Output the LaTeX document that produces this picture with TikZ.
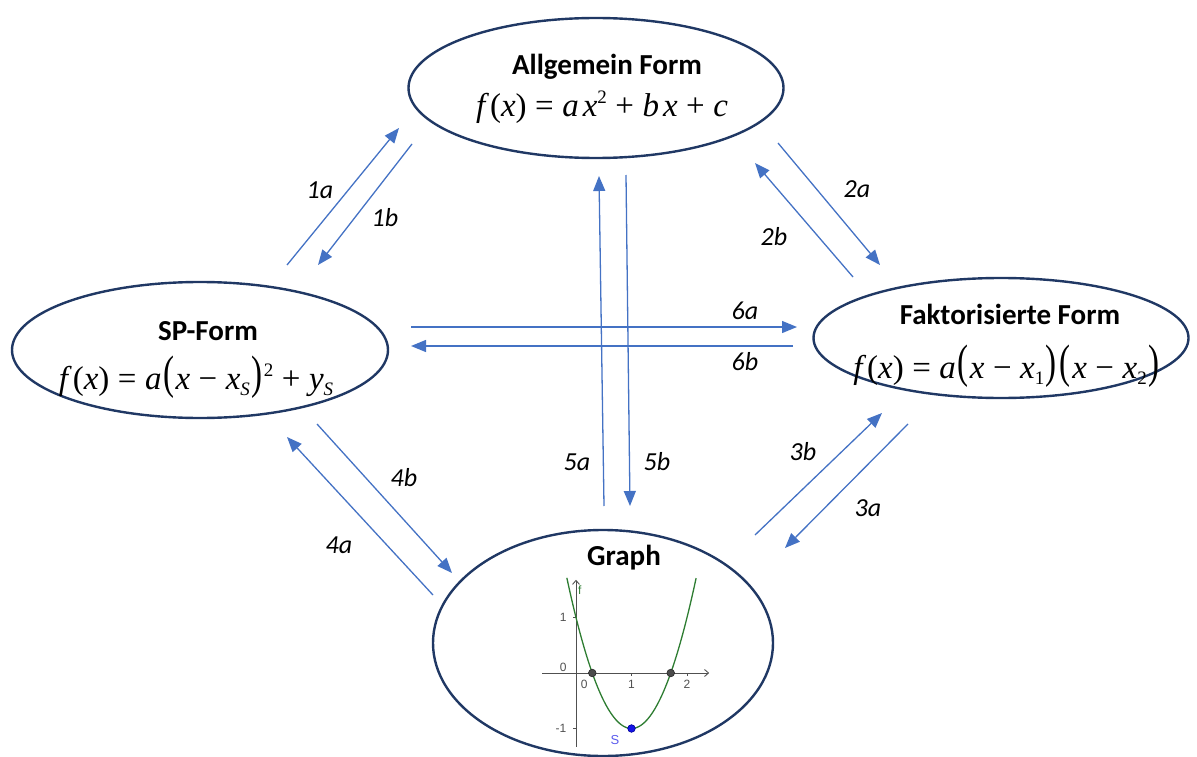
\documentclass[tikz,border=0pt]{standalone}
\usepackage[no-math]{fontspec}
\setmainfont{Carlito}
\newfontfamily\plotfont{Liberation Sans}
\newfontfamily\tnr{Liberation Serif}
\usetikzlibrary{arrows.meta,shapes.geometric}
\definecolor{navy}{RGB}{32,56,100}
\definecolor{arr}{RGB}{68,114,196}
\definecolor{curvegreen}{RGB}{46,125,50}
\definecolor{axisgray}{RGB}{80,80,80}
\definecolor{ptblue}{RGB}{20,20,230}
\newcommand{\iv}[1]{\textit{#1}}
\newcommand{\bigpl}{\kern1.5pt\raisebox{1pt}{\scalebox{1}[1.42]{(}}\kern1.5pt}
\newcommand{\bigpr}{\kern1.5pt\raisebox{1pt}{\scalebox{1}[1.42]{)}}\kern1.5pt}
\newcommand{\sub}[1]{\raisebox{-6pt}{\fontsize{19}{19}\selectfont #1}}
\newcommand{\sqr}[1]{\raisebox{13pt}{\fontsize{19}{19}\selectfont #1}}
\newcommand{\op}[1]{\hspace{8.5pt}#1\hspace{8.5pt}}
\begin{document}
\begin{tikzpicture}[x=1pt,y=-1pt,
  form/.style={ellipse, draw=navy, line width=2.4pt, inner sep=0pt, outer sep=0pt},
  titletxt/.style={anchor=base, inner sep=0pt, font=\fontsize{29}{32}\selectfont\bfseries},
  formula/.style={anchor=base, inner sep=0pt, font=\tnr\fontsize{33}{36}\selectfont},
  lbl/.style={font=\fontsize{26}{30}\selectfont\itshape},
  conn/.style={draw=arr, line width=1.3pt, -{Triangle[length=15pt,width=12pt]}},
  axis/.style={draw=axisgray, line width=0.9pt},
  ticklbl/.style={font=\plotfont\fontsize{12}{13}\selectfont, text=axisgray, inner sep=0pt},
]
\useasboundingbox (0,0) rectangle (1197,757);

% ellipses
\node[form, minimum width=375pt, minimum height=140pt] (allg) at (596,88) {};
\node[form, minimum width=376pt, minimum height=136pt] (sp) at (200,350) {};
\node[form, minimum width=375pt, minimum height=120pt] (fak) at (1001,338) {};
\node[form, minimum width=340pt, minimum height=226pt] (graph) at (603,643) {};

% titles and formulas
\node[titletxt] (allgT) at (607,75) {Allgemein Form};
\node[formula] (allgF) at (602,117) {\iv{f}\kern1pt(\iv{x})\op{=}\iv{a}\kern4pt\iv{x}\sqr{2}\op{+}\iv{b}\kern4pt\iv{x}\op{+}\iv{c}};
\node[titletxt] (spT) at (208,340) {SP-Form};
\node[formula] (spF) at (196,389) {\iv{f}\kern1pt(\iv{x})\op{=}\iv{a}\bigpl\iv{x}\op{−}\iv{x}\sub{\iv{S}}\bigpr\sqr{2}\op{+}\iv{y}\sub{\iv{S}}};
\node[titletxt] (fakT) at (1010,324) {Faktorisierte Form};
\node[formula] (fakF) at (1007,378) {\iv{f}\kern1pt(\iv{x})\op{=}\iv{a}\bigpl\iv{x}\op{−}\iv{x}\sub{1}\bigpr\bigpl\iv{x}\op{−}\iv{x}\sub{2}\bigpr};
\node[titletxt] (graphT) at (624,565) {Graph};

% connector end points
\coordinate (a1s) at (287,265); \coordinate (a1e) at (399,128);
\coordinate (b1s) at (412,144); \coordinate (b1e) at (318,265);
\coordinate (a2s) at (778,143); \coordinate (a2e) at (880,265);
\coordinate (b2s) at (853,277); \coordinate (b2e) at (755,163);
\coordinate (a6s) at (411,327); \coordinate (a6e) at (797,327);
\coordinate (b6s) at (793,346); \coordinate (b6e) at (411,346);
\coordinate (a5s) at (604,506); \coordinate (a5e) at (599,176);
\coordinate (b5s) at (626,175); \coordinate (b5e) at (630,506);
\coordinate (b3s) at (755,535); \coordinate (b3e) at (882,413);
\coordinate (a3s) at (908,424); \coordinate (a3e) at (785,548);
\coordinate (b4s) at (317,424); \coordinate (b4e) at (452,573);
\coordinate (a4s) at (433,595); \coordinate (a4e) at (287,437);

\draw[conn] (a1s) -- (a1e);
\draw[conn] (b1s) -- (b1e);
\draw[conn] (a2s) -- (a2e);
\draw[conn] (b2s) -- (b2e);
\draw[conn] (a6s) -- (a6e);
\draw[conn] (b6s) -- (b6e);
\draw[conn] (a5s) -- (a5e);
\draw[conn] (b5s) -- (b5e);
\draw[conn] (b3s) -- (b3e);
\draw[conn] (a3s) -- (a3e);
\draw[conn] (b4s) -- (b4e);
\draw[conn] (a4s) -- (a4e);

% labels
\node[lbl] (l1a) at (320,190) {1a};
\node[lbl] (l1b) at (385,218) {1b};
\node[lbl] (l2a) at (857,189) {2a};
\node[lbl] (l2b) at (774,237) {2b};
\node[lbl] (l6a) at (745,311) {6a};
\node[lbl] (l6b) at (745,362) {6b};
\node[lbl] (l5a) at (577,462) {5a};
\node[lbl] (l5b) at (657,462) {5b};
\node[lbl] (l3b) at (803,452) {3b};
\node[lbl] (l3a) at (868,508) {3a};
\node[lbl] (l4b) at (404,478) {4b};
\node[lbl] (l4a) at (339,545) {4a};

% graph plot
\begin{scope}[shift={(576,673)}, x={(55.5pt,0pt)}, y={(0pt,55.5pt)}]
  \draw[axis, -{Straight Barb[length=4pt,width=7pt]}] (-0.61,0) -- (2.4,0);
  \draw[axis, -{Straight Barb[length=4pt,width=7pt]}] (0,-1.33) -- (0,1.68);
  \draw[axis] (1,0) -- (1,-0.06);
  \draw[axis] (2,0) -- (2,-0.06);
  \draw[axis] (0,1) -- (-0.06,1);
  \draw[axis] (0,-1) -- (-0.06,-1);
  \draw[curvegreen, line width=1.3pt, domain=-0.165:2.165, samples=80, smooth] plot (\x,{2*(\x-1)^2-1});
  \fill[black!70, draw=black!85, line width=0.6pt] (0.2929,0) circle (3.8pt);
  \fill[black!70, draw=black!85, line width=0.6pt] (1.7071,0) circle (3.8pt);
  \fill[ptblue, draw=blue!60!black, line width=0.6pt] (1,-1) circle (3.8pt);
  \node[ticklbl] (ty1) at (-0.23,1) {1};
  \node[ticklbl] (ty0) at (-0.23,0.11) {0};
  \node[ticklbl] (tym1) at (-0.27,-1) {-1};
  \node[ticklbl] (tx0) at (0.15,-0.2) {0};
  \node[ticklbl] (tx1) at (1,-0.2) {1};
  \node[ticklbl] (tx2) at (2,-0.2) {2};
  \node[ticklbl, text=curvegreen] (tf) at (0.07,1.5) {f};
  \node[ticklbl, text=ptblue!70!white, font=\plotfont\fontsize{13}{14}\selectfont] (tS) at (0.7,-1.2) {S};
\end{scope}
\end{tikzpicture}
\end{document}
